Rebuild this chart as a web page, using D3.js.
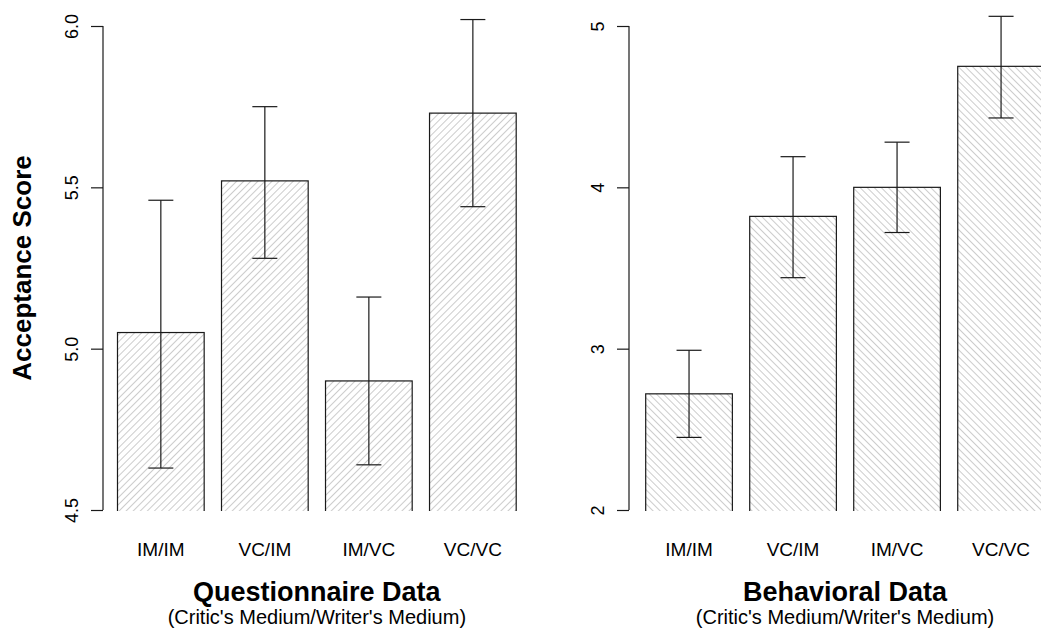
<html>
<head>
    <meta charset="UTF-8">
    <title>Acceptance Score</title>
    <script src="https://cdnjs.cloudflare.com/ajax/libs/d3/7.8.5/d3.min.js"></script>
    <style>
        body { margin: 0; background: #fff; }
        svg { display: block; font-family: "Liberation Sans", Arial, sans-serif; }
    </style>
</head>
<body>
    <svg id="chart" width="1041" height="629"></svg>
    <script>
        // data
        var categories = ["IM/IM", "VC/IM", "IM/VC", "VC/VC"];

        var questMeans = [5.05, 5.52, 4.90, 5.73];
        var questLower = [4.63, 5.28, 4.64, 5.44];
        var questUpper = [5.46, 5.75, 5.16, 6.02];
        var questTicks = [4.5, 5.0, 5.5, 6.0];

        var behavMeans = [2.72, 3.82, 4.00, 4.75];
        var behavLower = [2.45, 3.44, 3.72, 4.43];
        var behavUpper = [2.99, 4.19, 4.28, 5.06];
        var behavTicks = [2, 3, 4, 5];

        var svg = d3.select("#chart");
        var defs = svg.append("defs");

        // plot region bottom clip (bars run below the axis and get cut)
        defs.append("clipPath").attr("id", "plotClip")
            .append("rect")
            .attr("x", 0).attr("y", 0)
            .attr("width", 1041).attr("height", 511);

        function hatch(id, angle) {
            var p = defs.append("pattern")
                .attr("id", id)
                .attr("patternUnits", "userSpaceOnUse")
                .attr("width", 5)
                .attr("height", 5)
                .attr("patternTransform", "rotate(" + angle + ")");
            p.append("line")
                .attr("x1", 0).attr("y1", -1)
                .attr("x2", 0).attr("y2", 6)
                .style("stroke", "#9a9a9a")
                .style("stroke-width", 1);
        }
        hatch("hatchRight", 45);
        hatch("hatchLeft", -45);

        function drawPanel(opts) {
            var x = d3.scaleBand()
                .domain(categories)
                .range(opts.xRange)
                .paddingInner(1 / 6)
                .paddingOuter(0);

            var y = d3.scaleLinear()
                .domain(opts.yDomain)
                .range([510, 26]);

            var rows = categories.map(function (c, i) {
                return { cat: c, mean: opts.means[i], lo: opts.lower[i], hi: opts.upper[i] };
            });

            var g = svg.append("g");

            // bars
            g.append("g")
                .attr("clip-path", "url(#plotClip)")
                .selectAll("rect.bar")
                .data(rows)
                .enter()
                .append("rect")
                .attr("class", "bar")
                .attr("x", d => x(d.cat))
                .attr("y", d => y(d.mean))
                .attr("width", x.bandwidth())
                .attr("height", d => 560 - y(d.mean))
                .style("fill", "url(#" + opts.pattern + ")")
                .style("stroke", "#1a1a1a")
                .style("stroke-width", 1.2);

            // error bars
            var eb = g.selectAll("g.err")
                .data(rows)
                .enter()
                .append("g")
                .attr("class", "err")
                .attr("transform", d => "translate(" + (x(d.cat) + x.bandwidth() / 2) + ",0)");

            eb.append("line")
                .attr("x1", 0).attr("x2", 0)
                .attr("y1", d => y(d.lo))
                .attr("y2", d => y(d.hi));
            eb.append("line")
                .attr("x1", -12.5).attr("x2", 12.5)
                .attr("y1", d => y(d.hi))
                .attr("y2", d => y(d.hi));
            eb.append("line")
                .attr("x1", -12.5).attr("x2", 12.5)
                .attr("y1", d => y(d.lo))
                .attr("y2", d => y(d.lo));
            eb.selectAll("line")
                .style("stroke", "#1a1a1a")
                .style("stroke-width", 1.2);

            // y axis
            var axis = d3.axisLeft(y)
                .tickValues(opts.ticks)
                .tickSize(12)
                .tickPadding(0)
                .tickFormat(opts.format);

            var ax = g.append("g")
                .attr("transform", "translate(" + opts.axisX + ",0)")
                .call(axis);
            ax.select(".domain")
                .attr("d", "M0," + y(opts.ticks[0]) + "V" + y(opts.ticks[opts.ticks.length - 1]))
                .style("stroke", "#1a1a1a")
                .style("stroke-width", 1.2);
            ax.selectAll(".tick line")
                .style("stroke", "#1a1a1a")
                .style("stroke-width", 1.2);
            ax.selectAll(".tick text")
                .attr("x", null).attr("dy", null)
                .attr("transform", "translate(-25,0) rotate(-90)")
                .style("text-anchor", "middle")
                .style("font-size", "18px")
                .style("font-family", "'Liberation Sans', Arial, sans-serif")
                .style("fill", "#000");

            // category labels
            g.selectAll("text.cat")
                .data(categories)
                .enter()
                .append("text")
                .attr("class", "cat")
                .attr("x", d => x(d) + x.bandwidth() / 2)
                .attr("y", 556)
                .style("text-anchor", "middle")
                .style("font-size", "19px")
                .text(d => d);

            var mid = (opts.xRange[0] + opts.xRange[1]) / 2;
            g.append("text")
                .attr("x", mid)
                .attr("y", 601)
                .style("text-anchor", "middle")
                .style("font-size", "27px")
                .style("font-weight", "bold")
                .text(opts.title);
            g.append("text")
                .attr("x", mid)
                .attr("y", 624)
                .style("text-anchor", "middle")
                .style("font-size", "20px")
                .text("(Critic's Medium/Writer's Medium)");
        }

        drawPanel({
            xRange: [117.5, 516.2],
            yDomain: [4.5, 6.0],
            axisX: 103,
            ticks: questTicks,
            format: d3.format(".1f"),
            means: questMeans,
            lower: questLower,
            upper: questUpper,
            pattern: "hatchRight",
            title: "Questionnaire Data"
        });

        drawPanel({
            xRange: [645.7, 1044.4],
            yDomain: [2, 5],
            axisX: 629,
            ticks: behavTicks,
            format: d3.format("d"),
            means: behavMeans,
            lower: behavLower,
            upper: behavUpper,
            pattern: "hatchLeft",
            title: "Behavioral Data"
        });

        svg.append("text")
            .attr("transform", "translate(31,268) rotate(-90)")
            .style("text-anchor", "middle")
            .style("font-size", "26px")
            .style("font-weight", "bold")
            .text("Acceptance Score");
    </script>
</body>
</html>
